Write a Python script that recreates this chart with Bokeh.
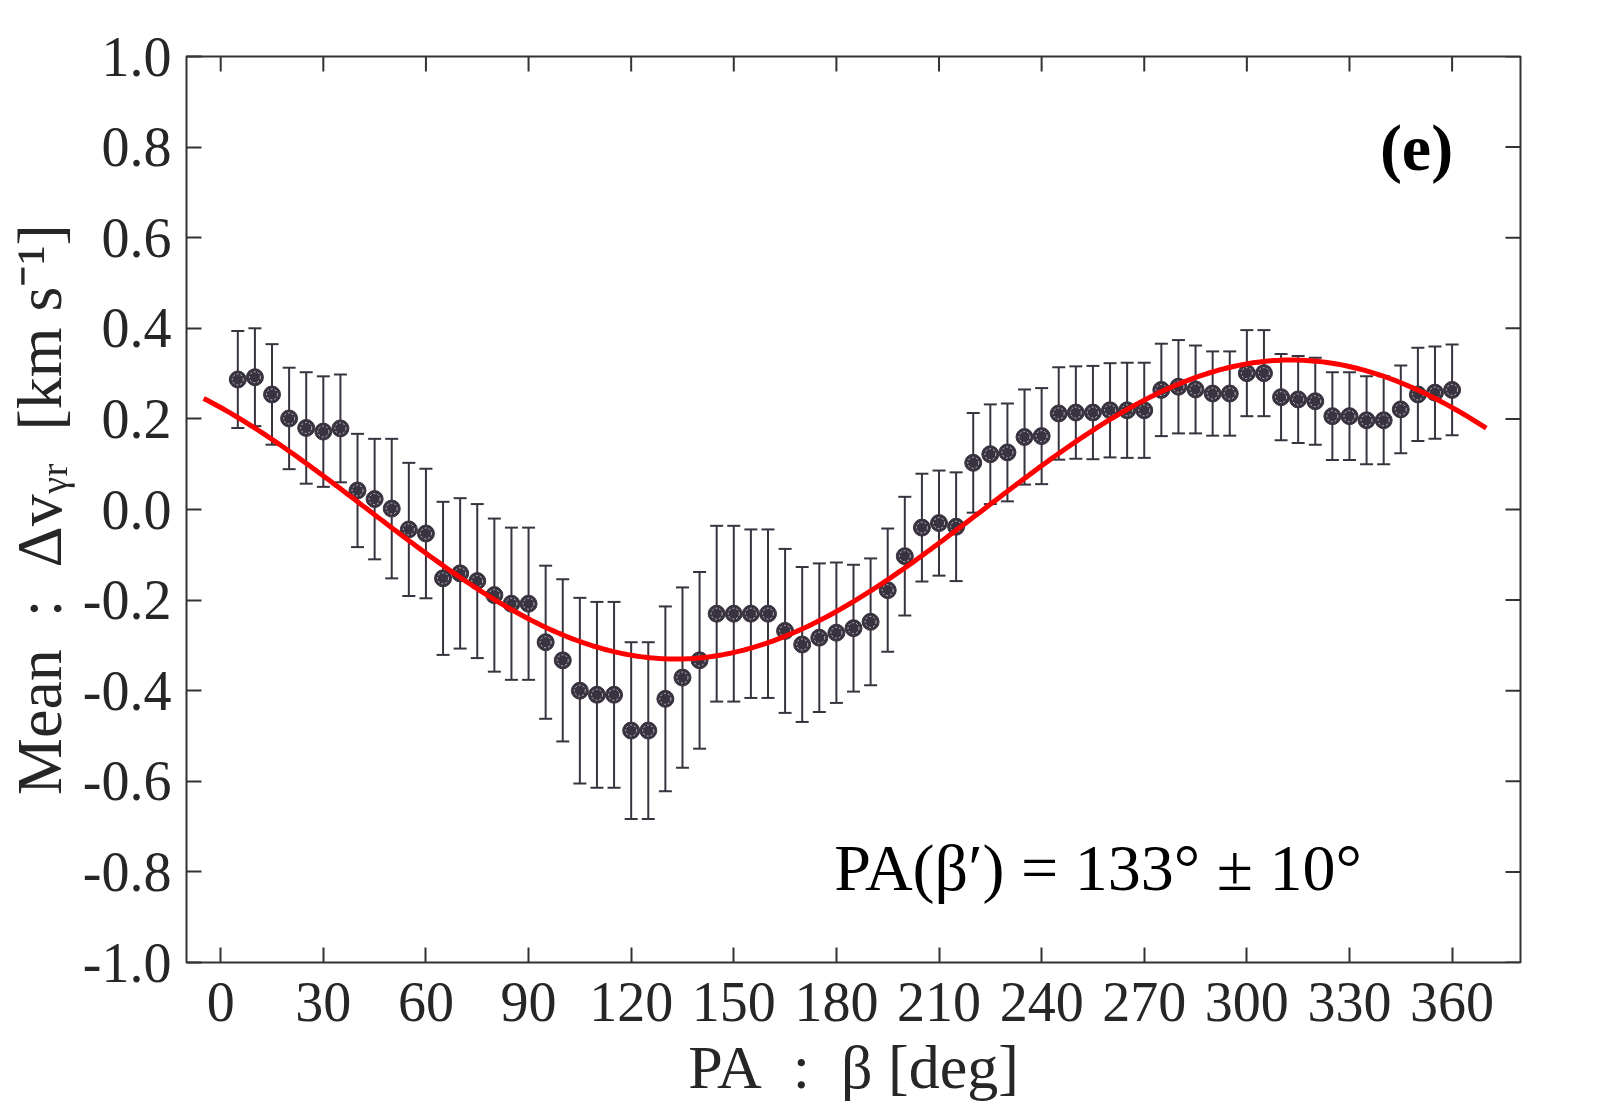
import numpy as np
from bokeh.plotting import figure
from bokeh.models import (Range1d, FixedTicker, Whisker, TeeHead,
                          ColumnDataSource, Label, PrintfTickFormatter)
from bokeh.embed import file_html
from bokeh.resources import INLINE

# ---- data ----
pa_deg = [5, 10, 15, 20, 25, 30, 35, 40, 45, 50, 55, 60, 65, 70, 75, 80, 85, 90,
          95, 100, 105, 110, 115, 120, 125, 130, 135, 140, 145, 150, 155, 160, 165, 170, 175, 180,
          185, 190, 195, 200, 205, 210, 215, 220, 225, 230, 235, 240, 245, 250, 255, 260, 265, 270,
          275, 280, 285, 290, 295, 300, 305, 310, 315, 320, 325, 330, 335, 340, 345, 350, 355, 360]
mean_dv = [0.287, 0.292, 0.254, 0.201, 0.180, 0.172, 0.179, 0.042, 0.023, 0.002, -0.044, -0.053,
           -0.152, -0.141, -0.158, -0.189, -0.208, -0.208, -0.293, -0.333, -0.400, -0.409, -0.409, -0.488,
           -0.488, -0.418, -0.371, -0.333, -0.230, -0.230, -0.230, -0.230, -0.268, -0.298, -0.283, -0.272,
           -0.262, -0.248, -0.178, -0.103, -0.040, -0.030, -0.038, 0.103, 0.122, 0.126, 0.160, 0.162,
           0.212, 0.214, 0.214, 0.219, 0.219, 0.219, 0.264, 0.271, 0.265, 0.256, 0.256, 0.301,
           0.301, 0.248, 0.243, 0.239, 0.206, 0.206, 0.197, 0.197, 0.221, 0.254, 0.258, 0.264]
err_dv = [0.107, 0.108, 0.111, 0.112, 0.123, 0.122, 0.119, 0.125, 0.133, 0.154, 0.147, 0.143,
          0.169, 0.166, 0.170, 0.169, 0.168, 0.168, 0.169, 0.179, 0.205, 0.205, 0.205, 0.195,
          0.195, 0.204, 0.199, 0.195, 0.194, 0.194, 0.186, 0.186, 0.181, 0.171, 0.164, 0.155,
          0.140, 0.140, 0.136, 0.131, 0.119, 0.116, 0.120, 0.110, 0.110, 0.108, 0.105, 0.106,
          0.102, 0.102, 0.103, 0.104, 0.105, 0.105, 0.102, 0.103, 0.097, 0.093, 0.093, 0.095,
          0.095, 0.095, 0.096, 0.096, 0.097, 0.097, 0.097, 0.097, 0.097, 0.103, 0.102, 0.100]

# fitted sinusoid: PA(beta') = 133 deg, amplitude ~0.33
fit_amplitude = 0.33
fit_phase_deg = 133.0
fit_range = [-5, 370]

x_ticks = [0, 30, 60, 90, 120, 150, 180, 210, 240, 270, 300, 330, 360]
x_tick_labels = ["0", "30", "60", "90", "120", "150", "180", "210", "240", "270", "300", "330", "360"]
y_ticks = [-1.0, -0.8, -0.6, -0.4, -0.2, 0.0, 0.2, 0.4, 0.6, 0.8, 1.0]

# ---- layout / styles ----
FONT = "Liberation Serif"
DARK = "#38333f"
AX = "#333333"
TXT = "#262626"
W, H = 1584, 1104
BL, BR, BT, BB = 186, 64, 56, 142
X0, X1 = -10, 380
Y0, Y1 = -1.0, 1.0
TICK_PX = 15

src = ColumnDataSource(dict(
    x=pa_deg, y=mean_dv,
    upper=[m + e for m, e in zip(mean_dv, err_dv)],
    lower=[m - e for m, e in zip(mean_dv, err_dv)],
))

p = figure(width=W, height=H, output_backend="svg", toolbar_location=None,
           x_range=Range1d(X0, X1), y_range=Range1d(Y0, Y1),
           min_border_left=BL, min_border_right=BR, min_border_top=BT, min_border_bottom=BB)
p.grid.visible = False
p.background_fill_color = "white"
p.border_fill_color = "white"
p.outline_line_color = AX
p.outline_line_width = 2
p.outline_line_alpha = 1.0

xa = p.xaxis[0]
ya = p.yaxis[0]
xa.ticker = FixedTicker(ticks=x_ticks)
xa.major_label_overrides = {t: l for t, l in zip(x_ticks, x_tick_labels)}
ya.ticker = FixedTicker(ticks=y_ticks)
ya.formatter = PrintfTickFormatter(format="%.1f")

for ax in [xa, ya]:
    ax.axis_line_color = None
    ax.major_tick_in = TICK_PX
    ax.major_tick_out = 0
    ax.major_tick_line_color = AX
    ax.major_tick_line_width = 2
    ax.minor_tick_line_color = None
    ax.major_label_text_font = FONT
    ax.major_label_text_font_size = "56px"
    ax.major_label_text_color = TXT
    ax.axis_label_text_font = FONT
    ax.axis_label_text_font_style = "normal"
    ax.axis_label_text_color = TXT

xa.major_label_standoff = 20
ya.major_label_standoff = 15
xa.axis_label = "PA\u2002:\u2002β [deg]"
xa.axis_label_text_font_size = "62px"
xa.axis_label_standoff = 9
ya.axis_label = "Mean\u2002:\u2002Δvᵧᵣ\u2002[km s⁻¹]"
ya.axis_label_text_font_size = "64px"
ya.axis_label_standoff = 5

# mirrored ticks on top and right edges (inward)
fw = W - BL - BR
fh = H - BT - BB
dx = TICK_PX * (X1 - X0) / fw
dy = TICK_PX * (Y1 - Y0) / fh
p.segment(x0=x_ticks, y0=[Y1] * len(x_ticks), x1=x_ticks, y1=[Y1 - dy] * len(x_ticks),
          line_color=AX, line_width=2)
p.segment(x0=[X1] * len(y_ticks), y0=y_ticks, x1=[X1 - dx] * len(y_ticks), y1=y_ticks,
          line_color=AX, line_width=2)

# error bars
wh = Whisker(source=src, base="x", upper="upper", lower="lower",
             line_color=DARK, line_width=2, level="underlay",
             upper_head=TeeHead(size=13, line_color=DARK, line_width=2),
             lower_head=TeeHead(size=13, line_color=DARK, line_width=2))
p.add_layout(wh)

# points
p.scatter("x", "y", source=src, size=17, fill_color=DARK, line_color=DARK, line_width=1)
p.scatter("x", "y", source=src, size=11, fill_color=None, line_color="#c8c3ce",
          line_width=1, line_dash="2 2")

# fit curve
cx = np.linspace(fit_range[0], fit_range[1], 400)
cy = -fit_amplitude * np.cos(np.radians(cx - fit_phase_deg))
p.line(cx, cy, line_color="#ff0000", line_width=5)

p.add_layout(Label(x=349.6, y=0.80, text="(e)", text_font=FONT, text_font_size="66px",
                   text_font_style="bold", text_align="center", text_baseline="middle",
                   text_color="black"))
p.add_layout(Label(x=256.5, y=-0.79, text="PA(β′) = 133° ± 10°", text_font=FONT,
                   text_font_size="66px", text_align="center", text_baseline="middle",
                   text_color="black"))

open("out.html", "w").write(file_html(p, INLINE))
